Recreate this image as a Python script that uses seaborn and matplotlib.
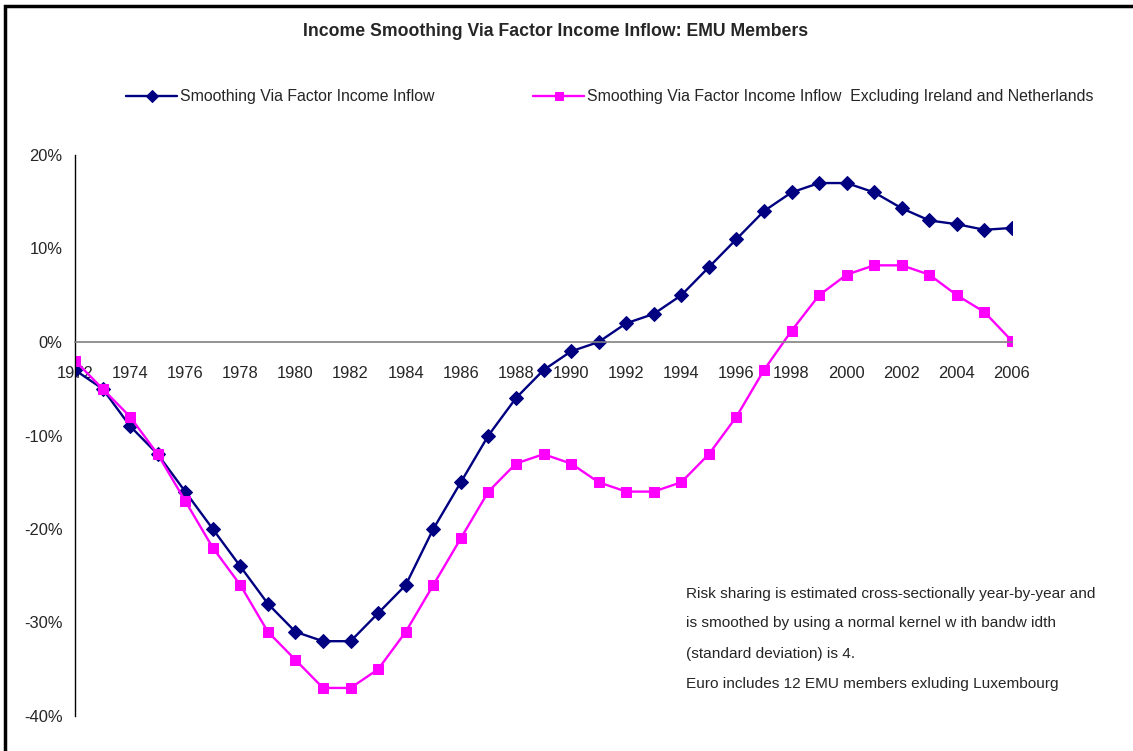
import pandas as pd
import matplotlib.pyplot as plt
import seaborn as sns
from matplotlib import font_manager
from matplotlib.patches import Rectangle
from matplotlib.ticker import PercentFormatter, MultipleLocator

years = list(range(1972, 2007))

# smoothing via factor income inflow, all EMU members (%)
all_members = [-3, -5, -9, -12, -16, -20, -24, -28, -31, -32,
               -32, -29, -26, -20, -15, -10, -6, -3, -1, 0,
               2, 3, 5, 8, 11, 14, 16, 17, 17, 16,
               14.3, 13, 12.6, 12, 12.2]

# same, excluding Ireland and Netherlands (%)
excl_ie_nl = [-2, -5, -8, -12, -17, -22, -26, -31, -34, -37,
              -37, -35, -31, -26, -21, -16, -13, -12, -13, -15,
              -16, -16, -15, -12, -8, -3, 1.2, 5, 7.2, 8.2,
              8.2, 7.2, 5, 3.2, 0.1]

label_all = "Smoothing Via Factor Income Inflow"
label_excl = "Smoothing Via Factor Income Inflow  Excluding Ireland and Netherlands"
note_lines = ["Risk sharing is estimated cross-sectionally year-by-year and",
              "is smoothed by using a normal kernel w ith bandw idth",
              "(standard deviation) is 4.",
              "Euro includes 12 EMU members exluding Luxembourg"]
note_rows = [594, 623, 654, 684]

sns.set_style("white")
installed = {f.name for f in font_manager.fontManager.ttflist}
narrow = "Liberation Sans Narrow" in installed
plt.rcParams['font.family'] = ['Liberation Sans Narrow' if narrow else 'Liberation Sans', 'DejaVu Sans']
plt.rcParams['axes.unicode_minus'] = False
k = 1.0 if narrow else 0.82

df = pd.DataFrame({"year": years, "all": all_members, "excl": excl_ie_nl})

fig = plt.figure(figsize=(11.33, 7.51), dpi=100)
ax = fig.add_axes([75 / 1133, 1 - 716 / 751, (1012 - 75) / 1133, (716 - 155) / 751])

sns.lineplot(data=df, x="year", y="all", ax=ax, color="#000080", lw=1.7,
             marker="D", markersize=7.5, markeredgecolor="#000080", label=label_all)
sns.lineplot(data=df, x="year", y="excl", ax=ax, color="#FF00FF", lw=1.7,
             marker="s", markersize=7.5, markeredgecolor="#FF00FF", label=label_excl)

ax.set_xlim(1972, 2006)
ax.set_ylim(-40, 20)
ax.xaxis.set_major_locator(MultipleLocator(2))
ax.yaxis.set_major_locator(MultipleLocator(10))
ax.yaxis.set_major_formatter(PercentFormatter(decimals=0))
ax.set_xlabel("")
ax.set_ylabel("")

ax.spines['top'].set_visible(False)
ax.spines['right'].set_visible(False)
ax.spines['bottom'].set_position(('data', 0))
ax.spines['bottom'].set_color("#808080")
ax.spines['bottom'].set_linewidth(1.2)
ax.spines['left'].set_color("black")
ax.spines['left'].set_linewidth(1.0)
ax.tick_params(axis='x', direction='out', length=5, width=1, color="#606060",
               labelsize=14.5 * k, pad=12)
ax.tick_params(axis='y', direction='out', length=3, width=1, color="black",
               labelsize=14.5 * k, pad=6)
ax.grid(False)

ax.get_legend().remove()
handles, labels = ax.get_legend_handles_labels()
fig.legend(handles, labels, loc='center left', bbox_to_anchor=(112 / 1133, 1 - 97 / 751),
           ncol=2, frameon=False, fontsize=14 * k, handlelength=3.2, handletextpad=0.15,
           columnspacing=6.2, markerscale=0.75)

fig.text(556 / 1133, 1 - 32 / 751, "Income Smoothing Via Factor Income Inflow: EMU Members",
         ha='center', va='center', fontsize=15.5 * k, fontweight='bold')
for line, row in zip(note_lines, note_rows):
    fig.text(686 / 1133, 1 - row / 751, line, ha='left', va='center', fontsize=13.5 * k)

fig.patches.append(Rectangle((5 / 1133, -0.1), 1.2, 1.1 - 6 / 751, transform=fig.transFigure,
                             fill=False, edgecolor='black', lw=2.5))

fig.savefig("out.png", dpi=100)
